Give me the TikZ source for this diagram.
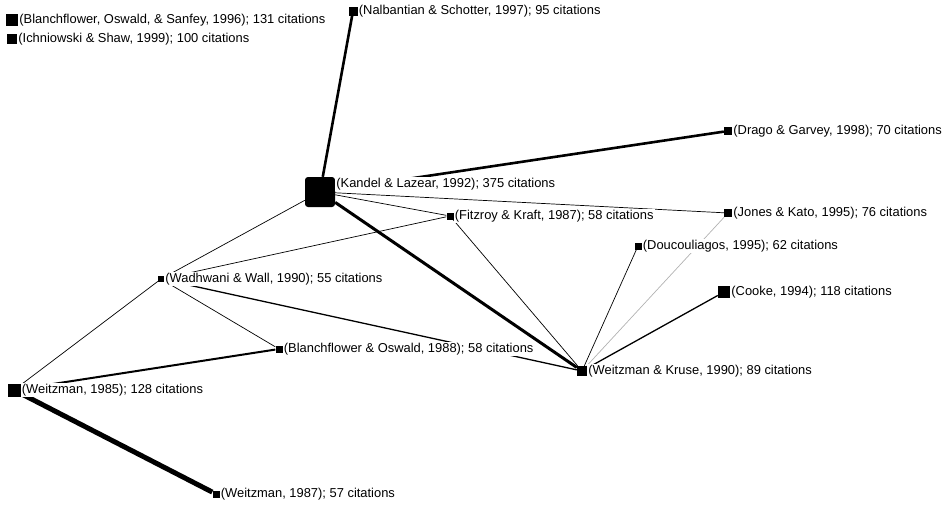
\documentclass[tikz,border=0pt]{standalone}
\usepackage{fontspec}
\setmainfont{Liberation Sans}
\usetikzlibrary{positioning}

\tikzset{
    paper/.style={rectangle, fill=black, inner sep=0pt, minimum size=#1},
    lbl/.style={fill=white, inner sep=1pt, font=\fontsize{12.9}{14}\selectfont},
    thin tie/.style={line width=0.7pt},
    mid tie/.style={line width=1.3pt},
    thick tie/.style={line width=2.6pt},
}

\begin{document}
\begin{tikzpicture}[x=1pt, y=-1pt]
    \useasboundingbox (0,0) rectangle (947,506);

    % Papers
    \node[paper=12] (bos96) at (12,20) {};
    \node[paper=10] (is99) at (12,39) {};
    \node[paper=9] (ns97) at (353,11) {};
    \node[paper=30, rounded corners=3pt] (kl92) at (320,192) {};
    \node[paper=8] (dg98) at (728,131) {};
    \node[paper=7] (fk87) at (450,216) {};
    \node[paper=8] (jk95) at (728,213) {};
    \node[paper=7] (dou95) at (638,246) {};
    \node[paper=6] (ww90) at (161,279) {};
    \node[paper=12] (coo94) at (724,292) {};
    \node[paper=7] (bo88) at (279,349) {};
    \node[paper=10] (wk90) at (582,371) {};
    \node[paper=13] (w85) at (14,390) {};
    \node[paper=7] (w87) at (216,494) {};

    % Citation ties
    \draw[thick tie] (kl92) -- (ns97);
    \draw[thick tie] (kl92) -- (dg98);
    \draw[line width=3pt] (kl92) -- (wk90);
    \draw[thin tie] (kl92) -- (fk87);
    \draw[thin tie] (kl92) -- (jk95);
    \draw[thin tie] (kl92) -- (ww90);
    \draw[thin tie] (fk87) -- (ww90);
    \draw[thin tie] (fk87) -- (wk90);
    \draw[thin tie] (dou95) -- (wk90);
    \draw[thin tie, black!30] (jk95) -- (wk90);
    \draw[mid tie] (coo94) -- (wk90);
    \draw[thin tie] (ww90) -- (w85);
    \draw[thin tie] (ww90) -- (bo88);
    \draw[mid tie] (ww90) -- (wk90);
    \draw[line width=2pt] (bo88) -- (w85);
    \draw[line width=5pt] (w85) -- (w87);

    % Labels
    \node[lbl, right=0pt of bos96] (bos96t) {(Blanchflower, Oswald, \& Sanfey, 1996); 131 citations};
    \node[lbl, right=0pt of is99] (is99t) {(Ichniowski \& Shaw, 1999); 100 citations};
    \node[lbl, right=0pt of ns97] (ns97t) {(Nalbantian \& Schotter, 1997); 95 citations};
    \node[lbl, right=0pt of kl92, yshift=8pt] (kl92t) {(Kandel \& Lazear, 1992); 375 citations};
    \node[lbl, right=0pt of dg98] (dg98t) {(Drago \& Garvey, 1998); 70 citations};
    \node[lbl, right=0pt of fk87] (fk87t) {(Fitzroy \& Kraft, 1987); 58 citations};
    \node[lbl, right=0pt of jk95] (jk95t) {(Jones \& Kato, 1995); 76 citations};
    \node[lbl, right=0pt of dou95] (dou95t) {(Doucouliagos, 1995); 62 citations};
    \node[lbl, right=0pt of ww90] (ww90t) {(Wadhwani \& Wall, 1990); 55 citations};
    \node[lbl, right=0pt of coo94] (coo94t) {(Cooke, 1994); 118 citations};
    \node[lbl, right=0pt of bo88] (bo88t) {(Blanchflower \& Oswald, 1988); 58 citations};
    \node[lbl, right=0pt of wk90] (wk90t) {(Weitzman \& Kruse, 1990); 89 citations};
    \node[lbl, right=0pt of w85] (w85t) {(Weitzman, 1985); 128 citations};
    \node[lbl, right=0pt of w87] (w87t) {(Weitzman, 1987); 57 citations};
\end{tikzpicture}
\end{document}
